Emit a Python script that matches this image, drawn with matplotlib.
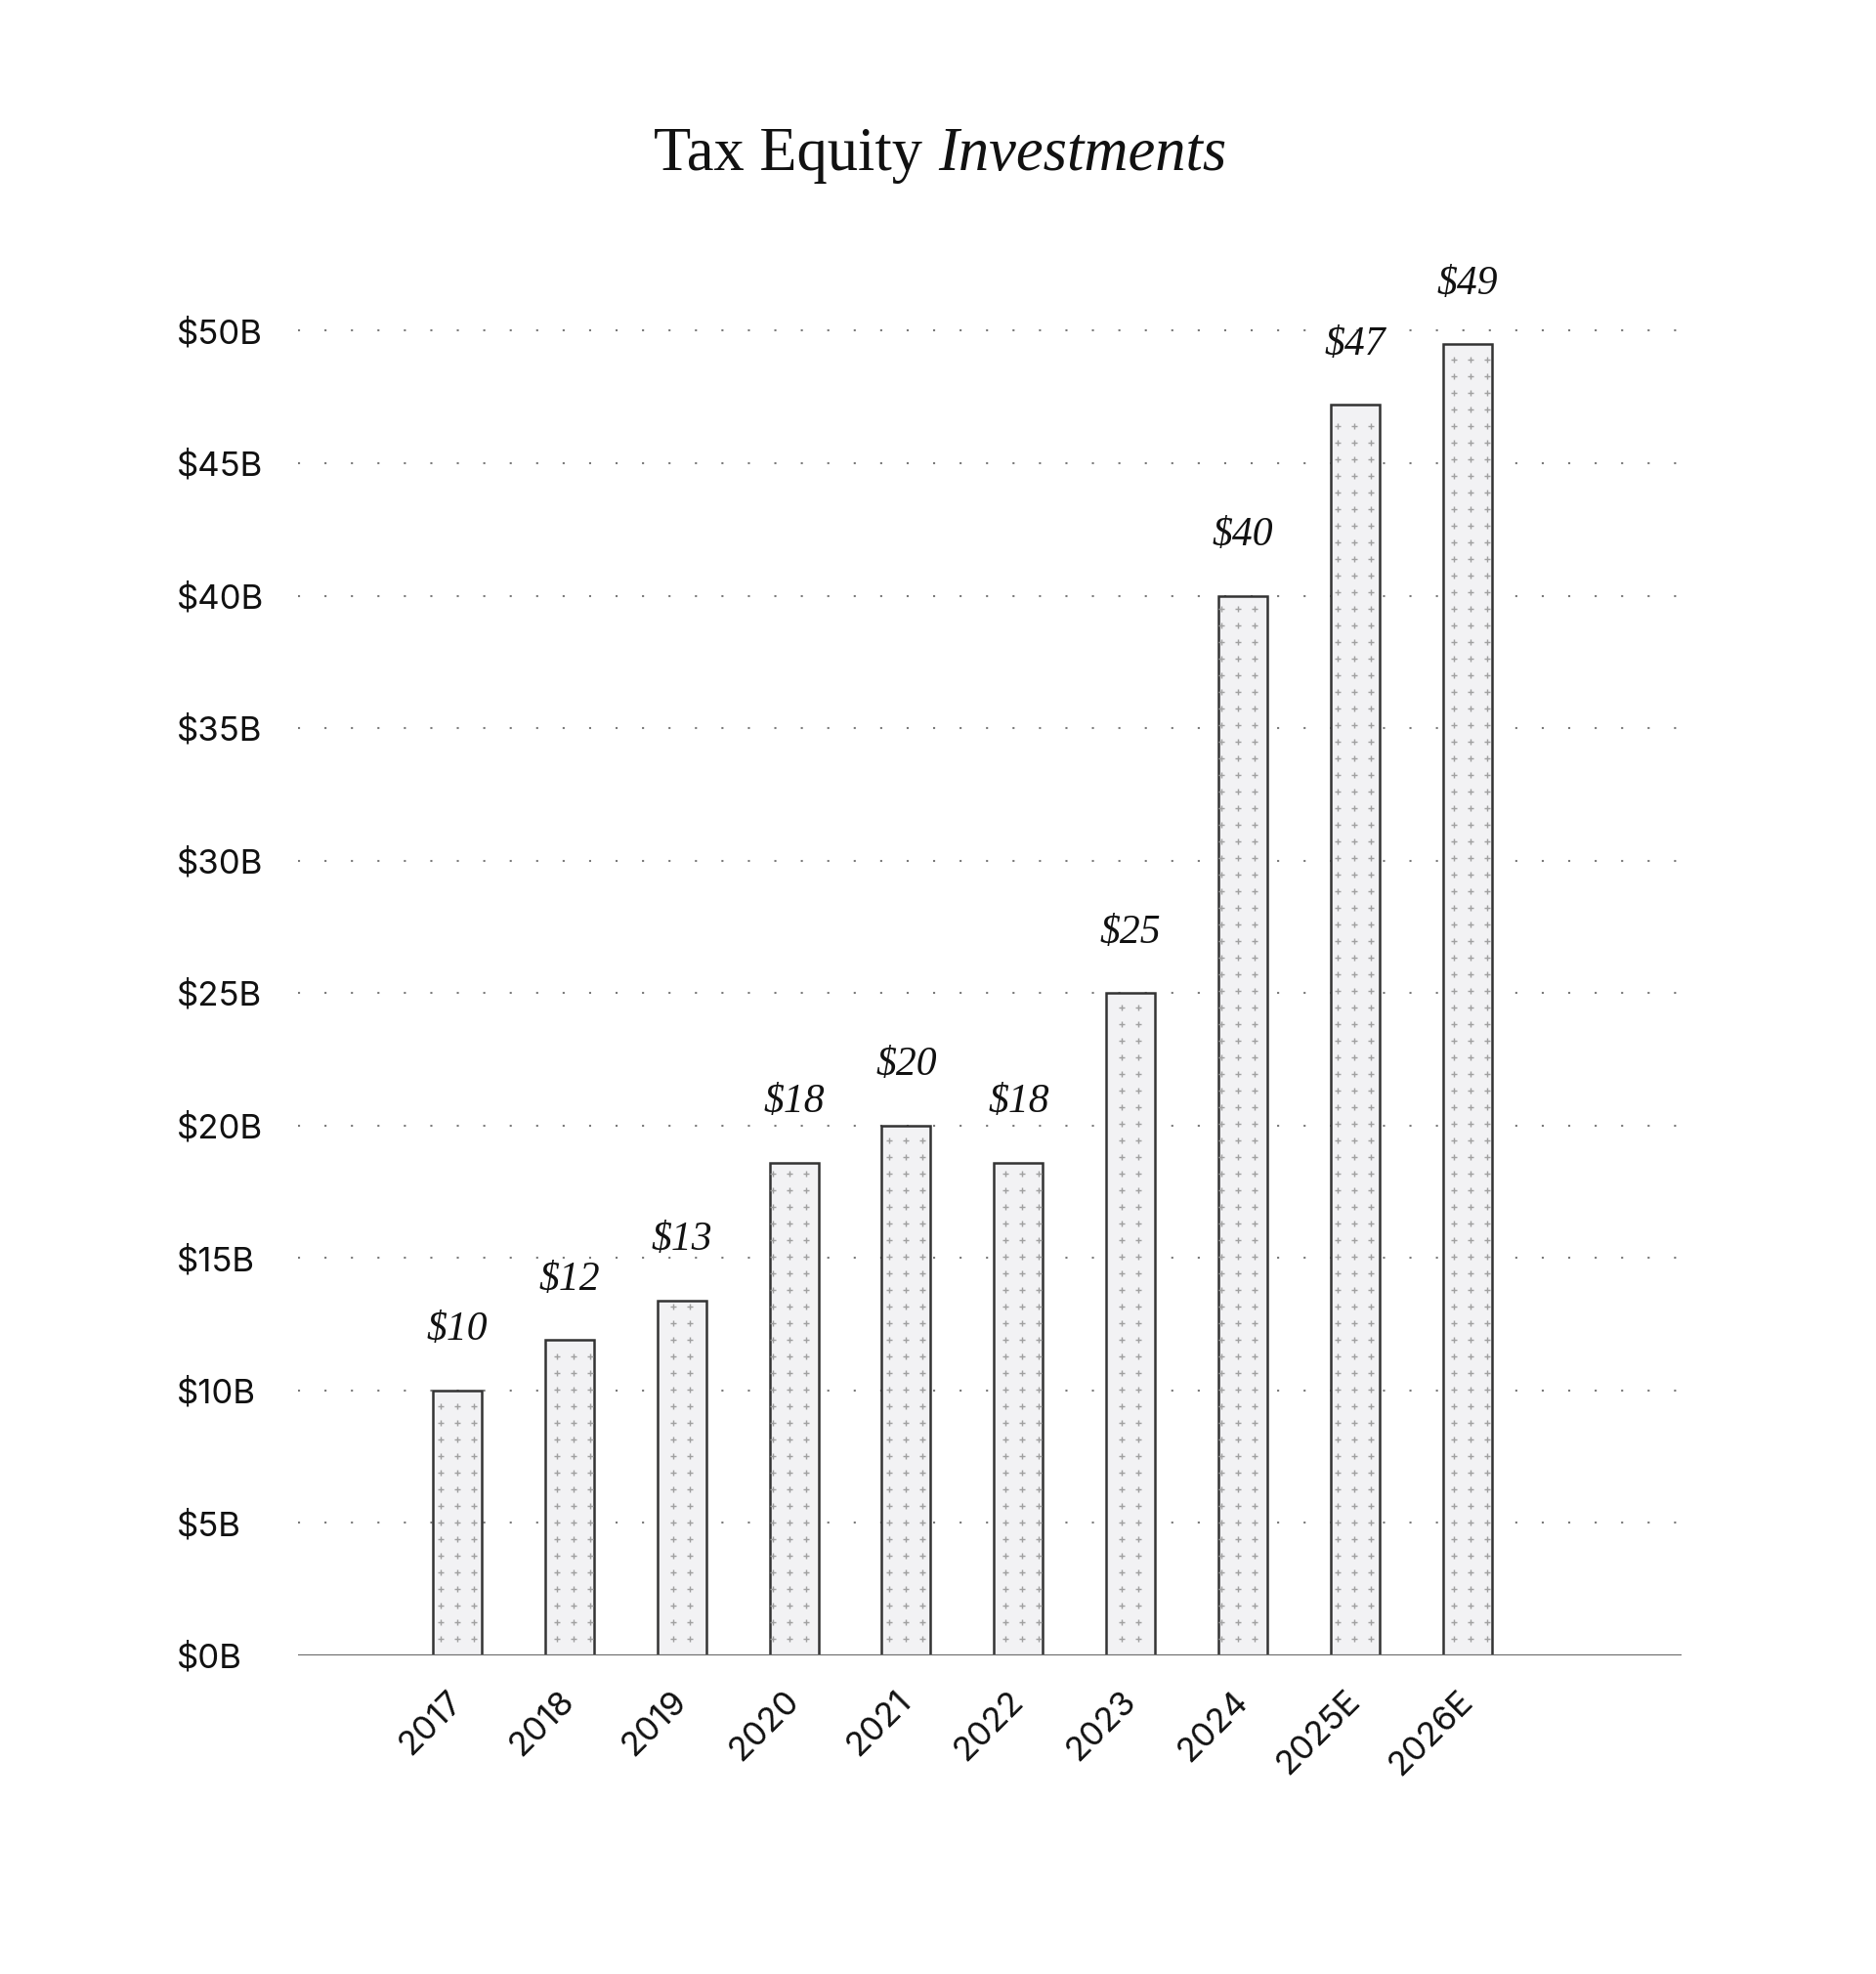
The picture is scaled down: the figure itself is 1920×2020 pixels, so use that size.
import numpy as np
import matplotlib
matplotlib.use("Agg")
import matplotlib.pyplot as plt
import matplotlib.transforms as mtransforms

# data ($ billions)
years = ["2017", "2018", "2019", "2020", "2021", "2022", "2023", "2024", "2025E", "2026E"]
investments = [10, 11.9, 13.4, 18.6, 20, 18.6, 25, 40, 47.2, 49.5]
bar_labels = ["$10", "$12", "$13", "$18", "$20", "$18", "$25", "$40", "$47", "$49"]
y_ticks = [0, 5, 10, 15, 20, 25, 30, 35, 40, 45, 50]
y_tick_labels = ["$0B", "$5B", "$10B", "$15B", "$20B", "$25B",
                 "$30B", "$35B", "$40B", "$45B", "$50B"]

sans = ["Inter", "DejaVu Sans"]
serif = ["Liberation Serif", "DejaVu Serif"]

fig = plt.figure(figsize=(19.2, 20.2), dpi=100)
ax = fig.add_axes([0.1591, 0.1614, 0.7372, 0.6979])

x = np.arange(len(years))
bar_w = 0.435
bars = ax.bar(x, investments, width=bar_w, color="#f2f2f4",
              edgecolor="#333333", linewidth=1.8, zorder=3)

# little plus-sign texture inside the bars (global grid, like a hatch)
gx = np.arange(-1.48, 11.0, 0.148)
gy = np.arange(0.627, 52, 0.627)
GX, GY = np.meshgrid(gx, gy)
GX, GY = GX.ravel(), GY.ravel()
for xi, h, b in zip(x, investments, bars):
    m = (GX > xi - bar_w / 2 + 0.01) & (GX < xi + bar_w / 2 - 0.01) & (GY < h - 0.2)
    sc = ax.scatter(GX[m], GY[m], marker="+", s=22, linewidths=1.0,
                    color="#a0a0a0", zorder=4)
    sc.set_clip_path(b)

# value labels
for xi, h, lab in zip(x, investments, bar_labels):
    ax.annotate(lab.replace("$", r"\$"), (xi, h), xytext=(0, 37),
                textcoords="offset points", ha="center", va="baseline",
                fontsize=30, style="italic", family=serif, color="#111111")

ax.set_xlim(-1.414, 10.906)
ax.set_ylim(0, 52)

# dotted grid
for t in y_ticks[1:]:
    ax.axhline(t, color="#7a7a7a", linewidth=1.5, linestyle=(0, (1, 12)), zorder=1)
ax.axhline(0, color="#6a6a6a", linewidth=1.6, zorder=5)

ax.set_yticks(y_ticks)
ax.set_yticklabels([s.replace("$", r"\$") for s in y_tick_labels],
                   fontsize=25, family=sans, ha="left", color="#111111")
ax.tick_params(axis="y", length=0, pad=90)

ax.set_xticks(x)
ax.set_xticklabels(years, rotation=45, ha="right", va="top",
                   rotation_mode="anchor", fontsize=25, family=sans, color="#111111")
ax.tick_params(axis="x", length=0, pad=22)
shift = mtransforms.ScaledTranslation(-0.11, 0.0, fig.dpi_scale_trans)
for lbl in ax.get_xticklabels():
    lbl.set_transform(lbl.get_transform() + shift)

for s in ax.spines.values():
    s.set_visible(False)

# title: regular + italic part
fig.text(0.5, 0.914, "Tax Equity ", ha="right", va="baseline",
         fontsize=45, family=serif, color="#111111")
fig.text(0.5, 0.914, "Investments", ha="left", va="baseline",
         fontsize=45, family=serif, style="italic", color="#111111")

fig.savefig("out.png", dpi=100, facecolor="white")
